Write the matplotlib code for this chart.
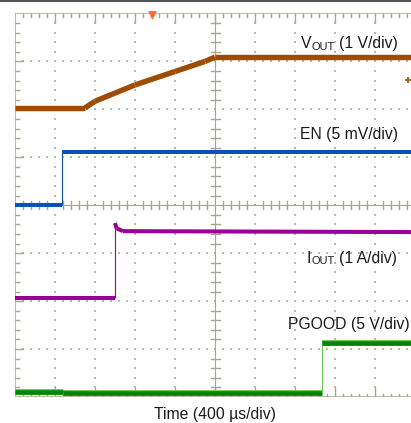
import matplotlib
matplotlib.use("Agg")
import matplotlib.pyplot as plt
import numpy as np

plt.rcParams['font.family'] = ['Liberation Sans', 'DejaVu Sans']

# ---- data (time in divisions, level in divisions from screen bottom) ----
vout_t = [0.0, 1.75, 2.0, 3.0, 4.0, 4.75, 5.0, 10.0]
vout_v = [6.03, 6.03, 6.17, 6.51, 6.79, 7.00, 7.09, 7.09]

en_t = [0.0, 1.18, 1.18, 10.0]
en_v = [4.01, 4.01, 5.12, 5.12]

iout_t = [0.0, 2.50, 2.50, 2.54, 2.70, 10.0]
iout_v = [2.06, 2.06, 3.63, 3.52, 3.46, 3.44]

pgood_t = [0.0, 1.20, 1.20, 7.68, 7.68, 10.0]
pgood_v = [0.11, 0.11, 0.08, 0.08, 1.13, 1.13]

# label pieces: (main, subscript, rest)
labels = [('V', 'OUT', '(1 V/div)'), ('EN', '', '(5 mV/div)'),
          ('I', 'OUT', '(1 A/div)'), ('PGOOD', '', '(5 V/div)')]
xlabel = 'Time (400 µs/div)'

W, H = 411, 423
fig = plt.figure(figsize=(W / 100, H / 100), dpi=100)
fig.patch.set_facecolor('white')

L, T, R, B = 15, 13.5, 415, 397
ax = fig.add_axes([L / W, 1 - B / H, (R - L) / W, (B - T) / H])
ax.set_xlim(0, 10)
ax.set_ylim(0, 8)
ax.axis('off')

px_x = 10 / (R - L)      # div per pixel horizontally
px_y = 8 / (B - T)       # div per pixel vertically
gcol = '#A8A48E'
dcol = '#B8B8AC'

# dotted grid
for gx in range(1, 10):
    if gx == 5:
        continue
    ys = np.arange(0.2, 8, 0.2)
    ax.scatter(np.full_like(ys, gx), ys, s=1.2, marker='s', color=dcol, lw=0, zorder=1)
for gy in range(1, 8):
    if gy == 4:
        continue
    xs = np.arange(0.2, 10, 0.2)
    ax.scatter(xs, np.full_like(xs, gy), s=1.2, marker='s', color=dcol, lw=0, zorder=1)

# border and centre lines
ax.plot([0, 0], [0, 8], color=gcol, lw=1.1, zorder=2)
ax.plot([0, 10], [8, 8], color=gcol, lw=1.1, zorder=2)
ax.plot([0, 10], [0, 0], color=gcol, lw=1.1, zorder=2)
ax.plot([5, 5], [0, 8], color=gcol, lw=0.8, zorder=2)
ax.plot([0, 10], [4, 4], color=gcol, lw=0.8, zorder=2)

# ticks
for k in range(1, 50):
    x = k * 0.2
    major = (k % 5 == 0)
    ln = (9 if major else 3.5) * px_y
    ax.plot([x, x], [8, 8 - ln], color=gcol, lw=1.0, zorder=2)
    ax.plot([x, x], [0, ln], color=gcol, lw=1.0, zorder=2)
    if not major:
        ax.plot([x, x], [4 - 4 * px_y, 4 + 4 * px_y], color=gcol, lw=1.0, zorder=2)
for k in range(1, 40):
    y = k * 0.2
    major = (k % 5 == 0)
    ln = (8 if major else 3.5) * px_x
    ax.plot([0, ln], [y, y], color=gcol, lw=1.0, zorder=2)
    if not major:
        ax.plot([5 - 4.5 * px_x, 5 + 4.5 * px_x], [y, y], color=gcol, lw=1.0, zorder=2)


def trace(t, v, color, lw, edge=None):
    for i in range(len(t) - 1):
        vertical = t[i] == t[i + 1]
        w = 0.8 if vertical else lw
        c = edge if (vertical and edge) else color
        if edge and not vertical:
            ax.plot(t[i:i + 2], v[i:i + 2], color=edge, lw=lw + 1.0,
                    solid_capstyle='butt', zorder=3)
        ax.plot(t[i:i + 2], v[i:i + 2], color=c, lw=w,
                solid_capstyle='butt', zorder=4)


trace(vout_t, vout_v, '#9E4C04', 3.9)
trace(en_t, en_v, '#0A52B4', 2.9)
trace(iout_t, iout_v, '#990099', 2.9)
trace(pgood_t, pgood_v, '#048404', 3.3, edge='#6ACB5A')

# markers
ax.scatter([3.42], [8 - 1.5 * px_y], marker='v', s=40, color='#FF6A2A', lw=0,
           zorder=5, clip_on=False)
ax.scatter([9.83], [(B - 80) * px_y], marker='+', s=14, color='#C06010', lw=1.4, zorder=5)

# labels (pixel coordinates -> figure fraction)
fs = 11.3
tcol = '#1A1A1A'
fig.canvas.draw()
renderer = fig.canvas.get_renderer()


def label(xr, yb, main, sub, rest):
    """Right-aligned label at pixel x=xr with baseline at pixel y=yb."""
    if not sub:
        fig.text(xr / W, 1 - yb / H, main + ' ' + rest, fontsize=fs, color=tcol,
                 ha='right', va='baseline')
        return
    t3 = fig.text(xr / W, 1 - yb / H, rest, fontsize=fs, color=tcol,
                  ha='right', va='baseline')
    x3 = t3.get_window_extent(renderer).x0
    x2r = x3 - 4.6
    t2 = fig.text(x2r / W, 1 - (yb + 1.2) / H, sub, fontsize=fs * 0.7, color=tcol,
                  ha='right', va='baseline')
    x2 = t2.get_window_extent(renderer).x0
    fig.text((x2 - 0.3) / W, 1 - yb / H, main, fontsize=fs, color=tcol,
             ha='right', va='baseline')


label(398, 48.3, *labels[0])
label(398, 139.0, *labels[1])
label(397, 263.3, *labels[2])
label(410, 329.5, *labels[3])
fig.text(215 / W, 1 - 419.0 / H, xlabel, fontsize=fs, color=tcol,
         ha='center', va='baseline')

# dark rule at top of figure
fig.add_artist(plt.Line2D([0, 1], [1 - 1 / H, 1 - 1 / H], transform=fig.transFigure,
                          color='#333333', lw=1.2))

fig.savefig('out.png', dpi=100)
